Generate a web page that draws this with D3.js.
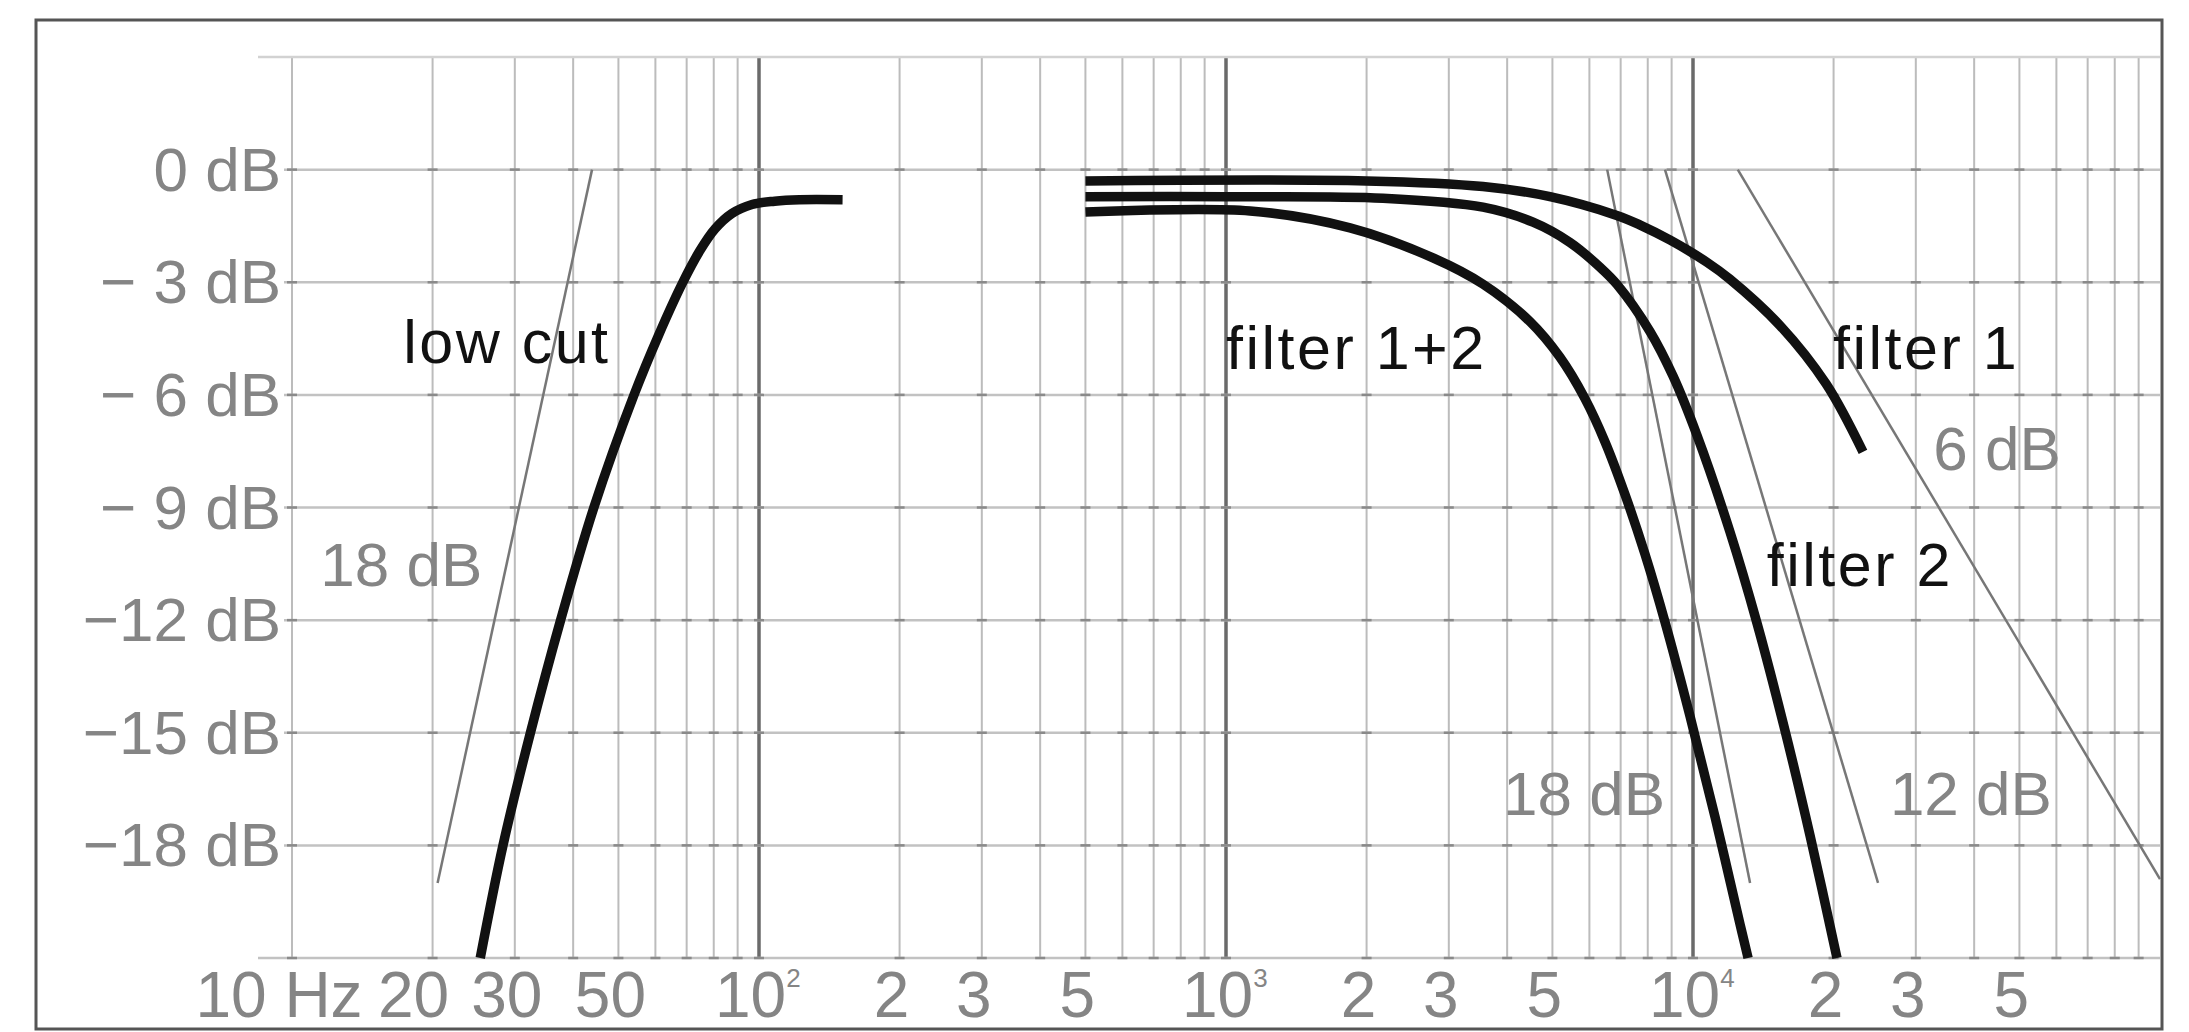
<!DOCTYPE html>
<html>
<head>
<meta charset="utf-8">
<script src="https://cdn.jsdelivr.net/npm/d3@7"></script>
<style>
body { margin: 0; background: #fff; }
text { font-family: "Liberation Sans", Arial, sans-serif; }
</style>
</head>
<body>
<script>
// frequency response curves, [Hz, dB]
var lowCut = [[25.3,-21],[28.3,-18],[32.4,-15],[37.6,-12],[44.3,-9],[54,-6],[61,-4.4],[68.7,-3],[74.8,-2.15],[80.5,-1.58],[87.5,-1.17],[96.6,-0.93],[108,-0.84],[122,-0.8],[151,-0.8]];
var filter1 = [[500,-0.3],[2000,-0.3],[3550,-0.45],[4940,-0.72],[6870,-1.22],[7690,-1.47],[8940,-1.88],[10720,-2.47],[12000,-2.92],[15350,-4.15],[19280,-5.71],[23120,-7.52]];
var filter2 = [[500,-0.72],[1000,-0.72],[2169,-0.76],[3550,-1.0],[4544,-1.4],[5452,-1.94],[6323,-2.6],[6876,-3.06],[8088,-4.31],[9062,-5.5],[10200,-7.08],[12000,-9.65],[13710,-12.08],[15660,-14.83],[17810,-17.74],[20340,-21]];
var filter12 = [[500,-1.13],[1126,-1.1],[1843,-1.55],[2775,-2.35],[3550,-3.05],[4477,-4.05],[5191,-5.0],[5870,-6.1],[6480,-7.25],[7150,-8.65],[7895,-10.25],[8710,-12.05],[9850,-14.55],[11150,-17.25],[12610,-20.1],[13120,-21]];

// reference slopes (18/12/6 dB per octave)
var slopeLow18 = [[20.5,-19],[43.9,0]];
var slopeHigh18 = [[6550,0],[13250,-19]];
var slope12 = [[8710,0],[24900,-19]];
var slope6 = [[12470,0],[100000,-18.9]];

var dbTicks = [0,-3,-6,-9,-12,-15,-18];
var dbLabels = ["0 dB","\u2212 3 dB","\u2212 6 dB","\u2212 9 dB","\u221212 dB","\u221215 dB","\u221218 dB"];
var dbGrid = [3,0,-3,-6,-9,-12,-15,-18,-21];
var freqTicks = [10,20,30,50,100,200,300,500,1000,2000,3000,5000,10000,20000,30000,50000];
var freqLabels = ["10 Hz","20","30","50","10","2","3","5","10","2","3","5","10","2","3","5"];
var freqSup = ["","","","","2","","","","3","","","","4","","",""];
var decades = [100,1000,10000];

var W = 2189, H = 1032;
var svg = d3.select("body").append("svg")
    .attr("width", W)
    .attr("height", H);

svg.append("rect").attr("width", W).attr("height", H).attr("fill", "#fff");

var x = d3.scaleLog().domain([10, 100000]).range([292, 2160]);
var y = d3.scaleLinear().domain([3, -21]).range([57, 958]);

// frame
svg.append("rect")
    .attr("x", 36).attr("y", 20)
    .attr("width", 2126).attr("height", 1009)
    .attr("fill", "none")
    .attr("stroke", "#555")
    .attr("stroke-width", 3);

// minor vertical grid, every 1..9 x decade
var minor = [];
for (var d = 10; d < 100000; d *= 10) {
    for (var k = 1; k < 10; k++) minor.push(d * k);
}
svg.append("g").selectAll("line").data(minor).join("line")
    .attr("x1", function(f) { return x(f); })
    .attr("x2", function(f) { return x(f); })
    .attr("y1", y(3)).attr("y2", y(-21))
    .attr("stroke", function(f) { return decades.indexOf(f) >= 0 ? "#6a6a6a" : "#bcbcbc"; })
    .attr("stroke-width", function(f) { return decades.indexOf(f) >= 0 ? 3.5 : 2; });

// horizontal grid
svg.append("g").selectAll("line").data(dbGrid).join("line")
    .attr("x1", function(v) { return (v == 3 || v == -21) ? 258 : 284; })
    .attr("x2", x(100000))
    .attr("y1", function(v) { return y(v); })
    .attr("y2", function(v) { return y(v); })
    .attr("stroke", function(v) { return v == 3 ? "#d2d2d2" : "#c2c2c2"; })
    .attr("stroke-width", 2.5);

// little crosses where the grid meets
var cross = svg.append("g").attr("stroke", "#8a8a8a").attr("stroke-width", 2.5);
dbGrid.slice(1).forEach(function(v) {
    minor.forEach(function(f) {
        cross.append("line")
            .attr("x1", x(f) - 5).attr("x2", x(f) + 5)
            .attr("y1", y(v)).attr("y2", y(v));
    });
});

// y labels
svg.append("g").selectAll("text").data(dbTicks).join("text")
    .attr("x", 281)
    .attr("y", function(v) { return y(v) + 21; })
    .attr("text-anchor", "end")
    .attr("font-size", 62)
    .attr("fill", "#858585")
    .text(function(v, i) { return dbLabels[i]; });

// x labels
var xl = svg.append("g");
freqTicks.forEach(function(f, i) {
    var dx = -8;
    if (i == 0) dx = -13;
    if (i == 1) dx = -19;
    var t = xl.append("text")
        .attr("y", 1017)
        .attr("font-size", 64)
        .attr("fill", "#858585");
    if (freqSup[i]) {
        t.attr("x", x(f) - 36 + dx).attr("text-anchor", "start").text(freqLabels[i]);
        t.append("tspan").attr("dy", -30).attr("font-size", 26).text(freqSup[i]);
    } else {
        t.attr("x", x(f) + dx).attr("text-anchor", "middle").text(freqLabels[i]);
    }
});

var line = d3.line()
    .x(function(p) { return x(p[0]); })
    .y(function(p) { return y(p[1]); });

// slope guides
[slopeLow18, slopeHigh18, slope12, slope6].forEach(function(s) {
    svg.append("path")
        .attr("d", line(s))
        .attr("fill", "none")
        .attr("stroke", "#777")
        .attr("stroke-width", 2.5);
});

// response curves
var curve = d3.line()
    .x(function(p) { return x(p[0]); })
    .y(function(p) { return y(p[1]); })
    .curve(d3.curveCatmullRom.alpha(0.5));

[lowCut, filter1, filter2, filter12].forEach(function(c) {
    svg.append("path")
        .attr("d", curve(c))
        .attr("fill", "none")
        .attr("stroke", "#111")
        .attr("stroke-width", 9.5);
});

// annotations
var grayNotes = [["18 dB", 11.5, -11.1], ["18 dB", 3920, -17.2], ["12 dB", 26400, -17.2], ["6 dB", 32700, -8.0]];
var blackNotes = [["low cut", 17.3, -5.15], ["filter 1+2", 1000, -5.3], ["filter 1", 19950, -5.3], ["filter 2", 14390, -11.1]];

svg.append("g").selectAll("text").data(grayNotes).join("text")
    .attr("x", function(n) { return x(n[1]); })
    .attr("y", function(n) { return y(n[2]); })
    .attr("font-size", 62)
    .attr("fill", "#858585")
    .text(function(n) { return n[0]; });

svg.append("g").selectAll("text").data(blackNotes).join("text")
    .attr("x", function(n) { return x(n[1]); })
    .attr("y", function(n) { return y(n[2]); })
    .attr("font-size", 61)
    .attr("letter-spacing", 2.5)
    .attr("fill", "#111")
    .text(function(n) { return n[0]; });
</script>
</body>
</html>
